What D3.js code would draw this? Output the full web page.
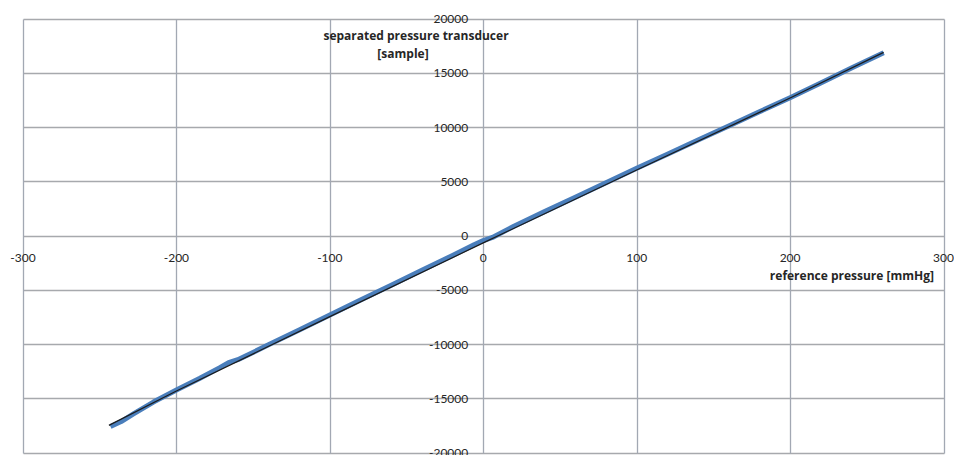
<!DOCTYPE html>
<html>
<head>
<meta charset="utf-8">
<script src="https://cdn.jsdelivr.net/npm/d3@7"></script>
<style>
  html, body { margin: 0; padding: 0; background: #fff; }
  svg { display: block; }
  text { font-family: Lato, "Open Sans", sans-serif; }
  text.title { font-family: "Open Sans", "Noto Sans", sans-serif; font-weight: 700; }
</style>
</head>
<body>
<svg id="chart" width="954" height="455"></svg>
<script>
// Calibration: transducer samples vs. reference pressure (mmHg)
const xTicks = [-300, -200, -100, 0, 100, 200, 300];
const yTicks = [-20000, -15000, -10000, -5000, 0, 5000, 10000, 15000, 20000];

// measured sweep
const measuredPressure = [-243, -236, -228, -215, -200, -185, -172, -166, -160, -140, -120, -100, -80, -60, -40, -20, -6, 0, 6, 20, 40, 60, 80, 100, 120, 140, 160, 180, 200, 220, 240, 261];
const measuredSamples  = [-17600, -17150, -16450, -15350, -14240, -13180, -12200, -11720, -11450, -10080, -8700, -7330, -5950, -4590, -3210, -1840, -860, -470, -180, 860, 2200, 3520, 4860, 6190, 7480, 8800, 10090, 11400, 12700, 14060, 15440, 16840];

// reference fit
const fitPressure = [-244, -200, -100, 0, 100, 200, 261];
const fitSamples  = [-17500, -14340, -7480, -680, 6030, 12670, 16880];

const xTitle = "reference pressure [mmHg]";
const yTitle = ["separated pressure transducer", "[sample]"];

const svg = d3.select("#chart");
const x = d3.scaleLinear().domain([-300, 300]).range([23, 943.5]);
const y = d3.scaleLinear().domain([-20000, 20000]).range([452.5, 18.5]);
const px = v => Math.round(x(v)) + 0.5;
const py = v => Math.round(y(v)) + 0.5;

// grid
const grid = svg.append("g");
grid.selectAll("line.h").data(yTicks).join("line")
  .attr("x1", px(-300)).attr("x2", px(300))
  .attr("y1", d => py(d)).attr("y2", d => py(d))
  .attr("stroke", "#a7a9ad").attr("stroke-width", 1.3);
grid.selectAll("line.v").data(xTicks).join("line")
  .attr("y1", py(20000)).attr("y2", py(-20000))
  .attr("x1", d => px(d)).attr("x2", d => px(d))
  .attr("stroke", "#a2a8b3").attr("stroke-width", 1.3);

// tick labels along the axes through the origin
svg.append("g").selectAll("text").data(xTicks).join("text")
  .attr("x", d => x(d)).attr("y", y(0) + 26)
  .attr("text-anchor", "middle")
  .attr("font-size", 12).attr("fill", "#262626")
  .text(d => d);
svg.append("g").selectAll("text").data(yTicks).join("text")
  .attr("x", x(0) - 15).attr("y", d => y(d) + 4.5)
  .attr("text-anchor", "end")
  .attr("font-size", 12).attr("fill", "#262626")
  .text(d => d);

// axis titles
svg.append("text").attr("class", "title")
  .attr("x", 934).attr("y", 280)
  .attr("text-anchor", "end")
  .attr("font-size", 12).attr("fill", "#262626")
  .text(xTitle);
svg.append("g").selectAll("text").data(yTitle).join("text")
  .attr("class", "title")
  .attr("x", (d, i) => i === 0 ? 416 : 403).attr("y", (d, i) => 40 + i * 18)
  .attr("text-anchor", "middle")
  .attr("font-size", 12).attr("fill", "#262626")
  .text(d => d);

// series
const line = d3.line().x(d => x(d[0])).y(d => y(d[1]));
svg.append("path")
  .datum(d3.zip(measuredPressure, measuredSamples))
  .attr("d", line)
  .attr("fill", "none").attr("stroke", "#4a7ebb").attr("stroke-width", 5)
  .attr("stroke-linejoin", "round");
svg.append("path")
  .datum(d3.zip(fitPressure, fitSamples))
  .attr("d", line)
  .attr("fill", "none").attr("stroke", "#1c1c1c").attr("stroke-width", 1.2);
</script>
</body>
</html>
